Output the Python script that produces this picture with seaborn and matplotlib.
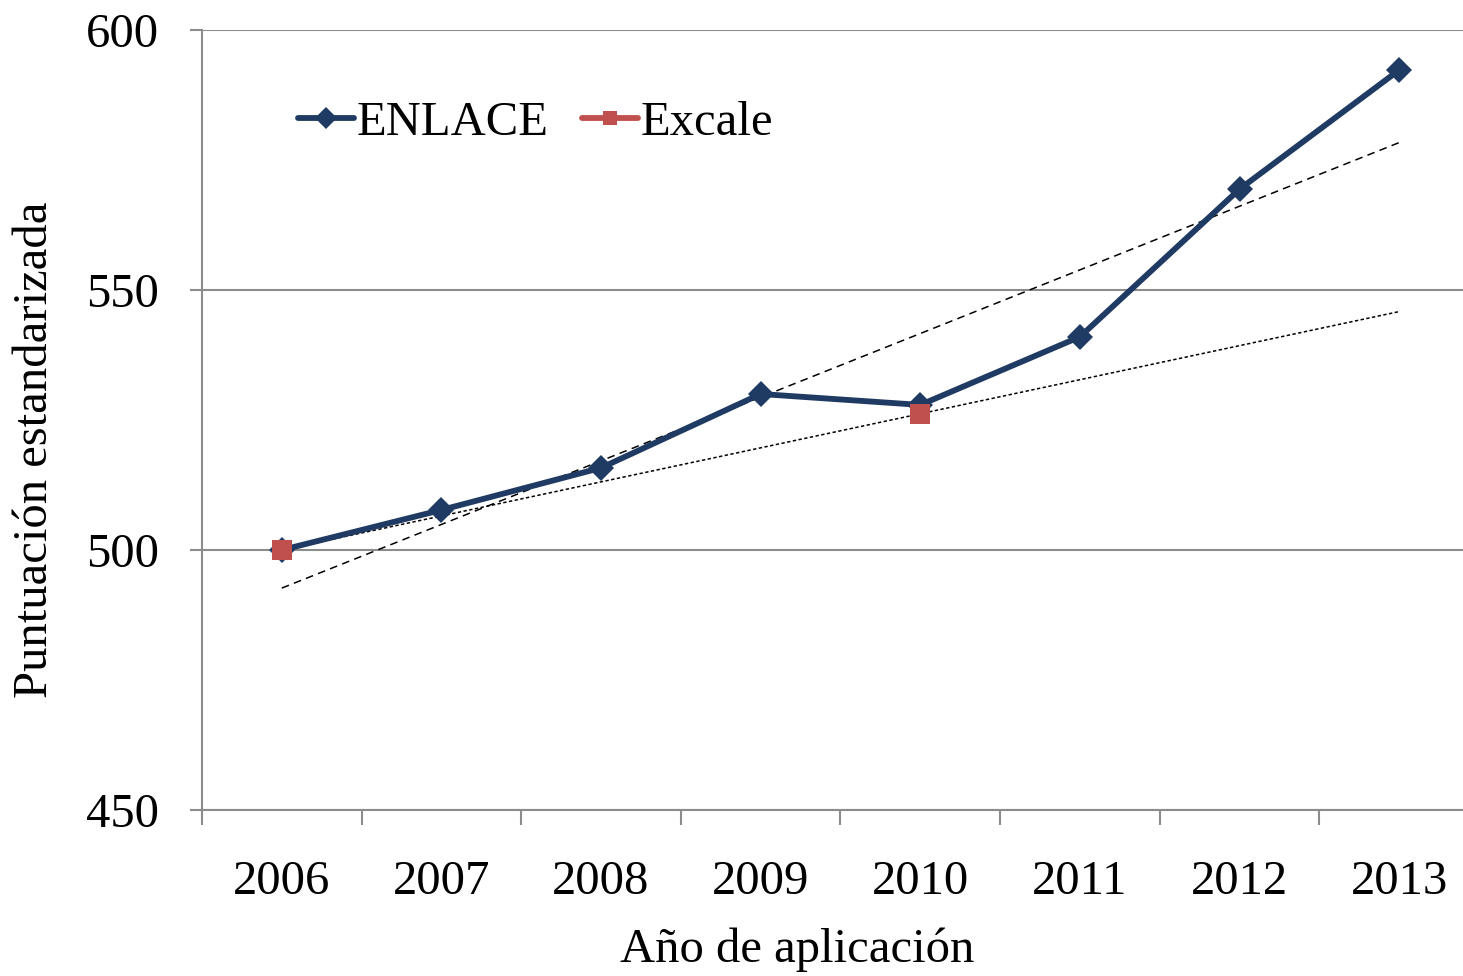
import numpy as np
import pandas as pd
import matplotlib
matplotlib.use("Agg")
import matplotlib.pyplot as plt
from matplotlib.lines import Line2D
import seaborn as sns

years = ["2006", "2007", "2008", "2009", "2010", "2011", "2012", "2013"]
enlace = [500.0, 507.7, 515.8, 530.0, 527.9, 541.0, 569.4, 592.3]
excale = [500.0, np.nan, np.nan, np.nan, 526.2, np.nan, np.nan, np.nan]

navy = "#1F3B63"
red = "#C0504D"
grid_gray = "#8C8C8C"

sns.set_style("white")
plt.rcParams["font.family"] = ["Liberation Serif", "DejaVu Serif"]
plt.rcParams["text.color"] = "black"
plt.rcParams["axes.labelcolor"] = "black"

df = pd.DataFrame({"x": np.arange(len(years)), "ENLACE": enlace, "Excale": excale})

fig = plt.figure(figsize=(14.63, 9.76), dpi=100)
ax = fig.add_axes([202 / 1463, 1 - 810 / 976, (1479 - 202) / 1463, 780 / 976])

# trend lines (linear fit of each series)
xs = df["x"].to_numpy()
m1, b1 = np.polyfit(xs, df["ENLACE"], 1)
ax.plot(xs[[0, -1]], m1 * xs[[0, -1]] + b1, color="black", lw=1.1, dashes=(5, 3.5), zorder=3)
ex = df.dropna(subset=["Excale"])
m2, b2 = np.polyfit(ex["x"], ex["Excale"], 1)
ax.plot(xs[[0, -1]], m2 * xs[[0, -1]] + b2, color="black", lw=1.1, dashes=(2.2, 1.6), zorder=3)

sns.lineplot(data=df, x="x", y="ENLACE", ax=ax, color=navy, lw=4.2, marker="D",
             markersize=13, markeredgewidth=0, zorder=4)
sns.scatterplot(data=ex, x="x", y="Excale", ax=ax, color=red, marker="s", s=190,
                linewidth=0, zorder=5)

ax.set_xlim(-0.5, 7.5)
ax.set_ylim(450, 600)
ax.set_yticks([450, 500, 550, 600])
ax.yaxis.grid(True, color=grid_gray, lw=1.5)
ax.set_axisbelow(True)

# category axis: tick marks at boundaries, labels centred
ax.set_xticks(np.arange(-0.5, 8, 1))
ax.set_xticklabels([])
ax.set_xticks(xs, minor=True)
ax.set_xticklabels(years, minor=True)
ax.tick_params(axis="x", which="major", bottom=True, length=11, width=1.5,
               color=grid_gray, direction="out")
ax.tick_params(axis="x", which="minor", bottom=True, length=0, pad=36, labelsize=35,
               labelcolor="black")
ax.tick_params(axis="y", left=True, length=9, width=1.5, color=grid_gray, direction="out",
               pad=22, labelsize=35, labelcolor="black")

for side in ["top", "right"]:
    ax.spines[side].set_visible(False)
for side in ["left", "bottom"]:
    ax.spines[side].set_color(grid_gray)
    ax.spines[side].set_linewidth(1.5)

ax.set_xlabel("Año de aplicación", fontsize=35)
ax.set_ylabel("Puntuación estandarizada", fontsize=35)
ax.xaxis.set_label_coords((797 - 202) / (1479 - 202), -(950 - 810) / 780, transform=ax.transAxes)
ax.yaxis.set_label_coords(-(202 - 35) / (1479 - 202), (810 - 450) / 780, transform=ax.transAxes)
ax.xaxis.label.set_va("center")
ax.yaxis.label.set_va("center")

handles = [
    Line2D([], [], color=navy, lw=4.2, marker="D", markersize=11, markeredgewidth=0),
    Line2D([], [], color=red, lw=4.2, marker="s", markersize=10, markeredgewidth=0),
]
fig.legend(handles, ["ENLACE", "Excale"], loc="center left",
           bbox_to_anchor=(298 / 1463, 1 - 123 / 976), ncol=2, frameon=False,
           fontsize=35, handlelength=1.15, handletextpad=0.05, columnspacing=0.7,
           borderaxespad=0, borderpad=0)

fig.savefig("out.png", dpi=100)
